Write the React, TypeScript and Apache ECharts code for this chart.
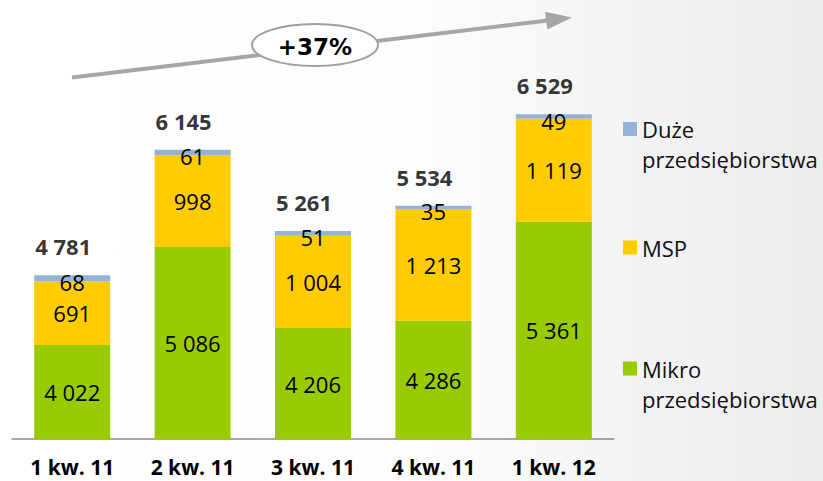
import React, { useEffect, useRef } from "react";
import * as echarts from "echarts";

const categories = ["1 kw. 11", "2 kw. 11", "3 kw. 11", "4 kw. 11", "1 kw. 12"];
const mikroValues = [4022, 5086, 4206, 4286, 5361];
const mspValues = [691, 998, 1004, 1213, 1119];
const duzeValues = [68, 61, 51, 35, 49];
const seriesNames = ["Mikro\nprzedsiębiorstwa", "MSP", "Duże\nprzedsiębiorstwa"];
const growthText = "+37%";

const totals = categories.map((_, i) => mikroValues[i] + mspValues[i] + duzeValues[i]);

const fmt = (v: number) => String(v).replace(/\B(?=(\d{3})+(?!\d))/g, " ");

const FONT = "'Open Sans', sans-serif";

export default function App() {
  const ref = useRef<HTMLDivElement>(null);
  useEffect(() => {
    if (!ref.current) return;
    const chart = echarts.init(ref.current, undefined, { renderer: "svg" });
    const segLabel = {
      show: true,
      position: "inside" as const,
      fontFamily: FONT,
      fontSize: 22,
      color: "#000",
      formatter: (p: any) => fmt(p.value),
    };
    const mkLegend = (name: string, top: number, two: boolean) => ({
      data: [name],
      orient: "vertical",
      left: 623,
      top,
      padding: 0,
      itemWidth: 14,
      itemHeight: 14,
      icon: "rect",
      selectedMode: false,
      formatter: (n: string) => (two ? "\n" + n : n),
      textStyle: {
        fontFamily: FONT,
        fontSize: 22,
        lineHeight: 30,
        color: "#111",
      },
    });
    chart.setOption({
      animation: false,
      backgroundColor: {
        type: "linear",
        x: 0,
        y: 0,
        x2: 1,
        y2: 0,
        colorStops: [
          { offset: 0, color: "#ffffff" },
          { offset: 0.5, color: "#fdfdfd" },
          { offset: 1, color: "#ececec" },
        ],
      },
      grid: { left: 12, right: 209, top: 71, bottom: 42, containLabel: false },
      legend: [
        mkLegend(seriesNames[2], 84, true),
        mkLegend(seriesNames[1], 232.5, false),
        mkLegend(seriesNames[0], 323.5, true),
      ],
      xAxis: {
        type: "category",
        data: categories,
        axisLine: { lineStyle: { color: "#8c8c8c", width: 1.5 } },
        axisTick: { show: false },
        axisLabel: {
          fontFamily: FONT,
          fontWeight: "bold",
          fontSize: 21,
          lineHeight: 16,
          color: "#000",
          margin: 20,
          interval: 0,
        },
      },
      yAxis: {
        type: "value",
        min: 3000,
        max: 7000,
        show: false,
        splitLine: { show: false },
      },
      series: [
        {
          name: seriesNames[0],
          type: "bar",
          stack: "total",
          barWidth: 76,
          clip: true,
          data: mikroValues,
          itemStyle: { color: "#99CC00" },
          label: segLabel,
        },
        {
          name: seriesNames[1],
          type: "bar",
          stack: "total",
          barWidth: 76,
          data: mspValues,
          itemStyle: { color: "#FFCC00" },
          label: segLabel,
        },
        {
          name: seriesNames[2],
          type: "bar",
          stack: "total",
          barWidth: 76,
          data: duzeValues,
          itemStyle: { color: "#95B3D7" },
          label: { ...segLabel, offset: [0, 4] },
        },
        {
          name: "Razem",
          type: "scatter",
          data: totals,
          symbolSize: 0,
          z: 5,
          label: {
            show: true,
            position: "inside",
            offset: [-9, -29],
            fontFamily: FONT,
            fontWeight: "bold",
            fontSize: 22,
            color: "#000",
            formatter: (p: any) => fmt(p.value),
          },
        },
      ],
      graphic: [
        {
          type: "line",
          z: 50,
          shape: { x1: 72, y1: 77.5, x2: 548, y2: 20.4 },
          style: { stroke: "#a6a6a6", lineWidth: 4 },
        },
        {
          type: "polygon",
          z: 50,
          shape: { points: [[572, 17.5], [547.3, 29.5], [545.1, 11.7]] },
          style: { fill: "#a6a6a6" },
        },
        {
          type: "ellipse",
          z: 51,
          shape: { cx: 315, cy: 45, rx: 63, ry: 21 },
          style: { fill: "#ffffff", stroke: "#a0a0a0", lineWidth: 2 },
        },
        {
          type: "text",
          z: 52,
          x: 315,
          y: 47,
          style: {
            text: growthText,
            fontFamily: "'DejaVu Sans', sans-serif",
            fontWeight: "bold",
            fontSize: 23,
            fill: "#000",
            align: "center",
            verticalAlign: "middle",
          },
        },
      ],
    });
    return () => chart.dispose();
  }, []);
  return (
    <div
      ref={ref}
      style={{ position: "absolute", left: 0, top: 0, width: 823, height: 481 }}
    />
  );
}
